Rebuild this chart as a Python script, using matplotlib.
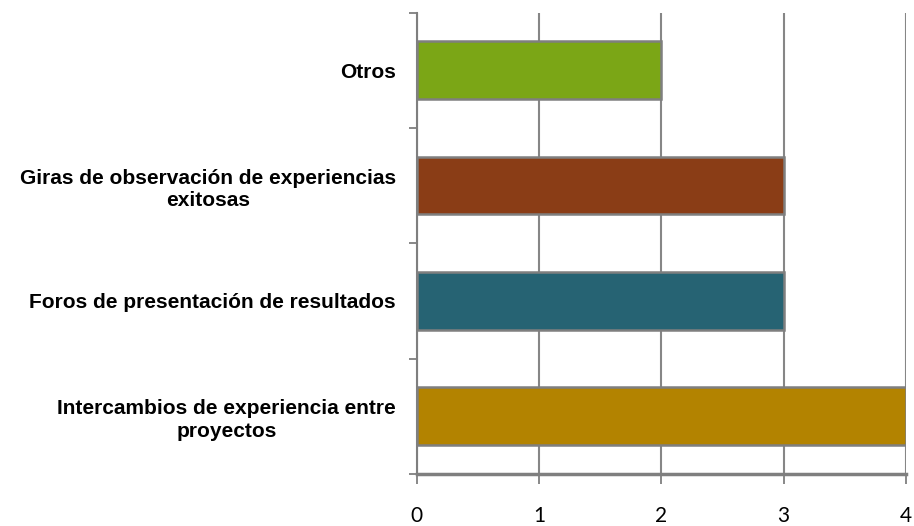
import matplotlib.pyplot as plt

categorias = ['Intercambios de experiencia entre\nproyectos',
              'Foros de presentación de resultados',
              'Giras de observación de experiencias\nexitosas',
              'Otros']
valores = [4, 3, 3, 2]
colores = ['#B38300', '#266373', '#8A3D16', '#7BA616']
xticks = [0, 1, 2, 3, 4]

fig = plt.figure(figsize=(9.14, 5.26), dpi=100)
ax = fig.add_axes([0.456, 0.099, 0.535, 0.877])

ax.barh(range(len(valores)), valores, height=0.5, color=colores,
        edgecolor='#7f7f7f', linewidth=1.8, zorder=3)

ax.set_xlim(0, 4)
ax.set_ylim(-0.5, len(valores) - 0.5)
ax.set_xticks(xticks)
ax.set_xticklabels([str(t) for t in xticks], fontsize=15, family='Lato')

# category labels sit between the boundary ticks
ax.set_yticks([i - 0.5 for i in range(len(valores) + 1)])
ax.set_yticklabels([])
ax.set_yticks(range(len(valores)), minor=True)
ax.set_yticklabels(categorias, minor=True, fontsize=15, fontweight='bold',
                   family='Liberation Sans', multialignment='center',
                   linespacing=1.25)
ax.tick_params(axis='y', which='minor', length=0, pad=15)
ax.tick_params(axis='y', which='major', length=6, width=1.3, color='#7f7f7f')
ax.tick_params(axis='x', length=7, width=1.3, color='#7f7f7f', pad=16)

ax.grid(axis='x', color='#868686', linewidth=1.5, zorder=0)
for s in ['top', 'right']:
    ax.spines[s].set_visible(False)
ax.spines['left'].set_color('#7f7f7f')
ax.spines['left'].set_linewidth(1.5)
ax.spines['bottom'].set_color('#7f7f7f')
ax.spines['bottom'].set_linewidth(2.5)

fig.savefig('out.png', dpi=100)
